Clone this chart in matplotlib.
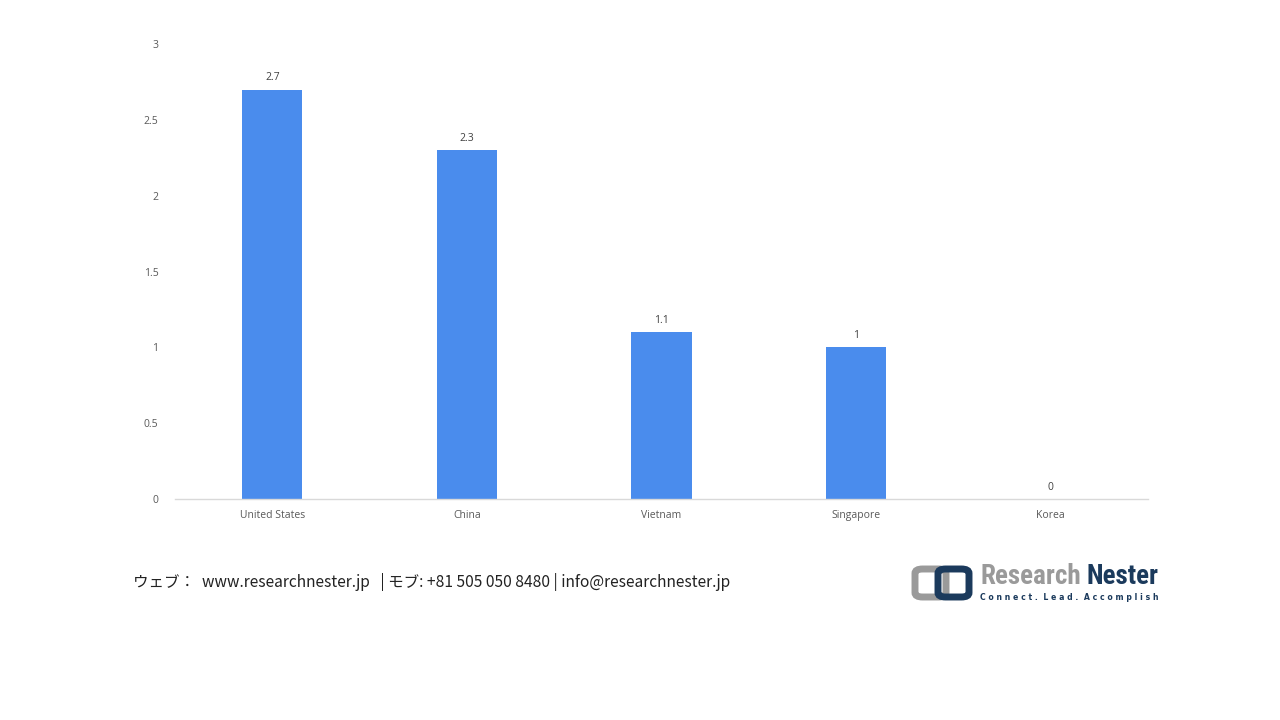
import matplotlib
matplotlib.use("Agg")
import matplotlib.pyplot as plt
from matplotlib.patches import FancyBboxPatch

categories = ["United States", "China", "Vietnam", "Singapore", "Korea"]
values = [2.7, 2.3, 1.1, 1.0, 0.0]
value_labels = ["2.7", "2.3", "1.1", "1", "0"]
yticks = [0, 0.5, 1, 1.5, 2, 2.5, 3]
ytick_labels = ["0", "0.5", "1", "1.5", "2", "2.5", "3"]

BAR_COLOR = "#4a8ced"
TEXT_GRAY = "#595959"
FONT = ["Open Sans", "DejaVu Sans"]

fig = plt.figure(figsize=(12.8, 7.2), dpi=100)
ax = fig.add_axes([175/1280, 1 - 499/720, (1148-175)/1280, (499-44)/720])

x = list(range(len(categories)))
bars = ax.bar(x, values, width=0.31, color=BAR_COLOR, zorder=2)
for xi, v, lab in zip(x, values, value_labels):
    ax.annotate(lab, (xi, v), xytext=(0, 4.5), textcoords="offset points",
                ha="center", va="bottom", fontsize=7.5, color="#404040", family=FONT)

ax.set_xlim(-0.5, len(categories) - 0.5)
ax.set_ylim(0, 3)
ax.set_yticks(yticks)
ax.set_yticklabels(ytick_labels, family=FONT, fontsize=7.5, color=TEXT_GRAY)
ax.set_xticks(x)
ax.set_xticklabels(categories, family=FONT, fontsize=7.5, color=TEXT_GRAY)
ax.tick_params(axis="both", length=0)
ax.tick_params(axis="y", pad=12)
ax.tick_params(axis="x", pad=8)
for s in ["top", "right", "left"]:
    ax.spines[s].set_visible(False)
ax.spines["bottom"].set_color("#d9d9d9")
ax.spines["bottom"].set_linewidth(1)

# footer text
fig.text(133/1280, 1 - 582/720,
         "ウェブ：  www.researchnester.jp   | モブ: +81 505 050 8480 | info@researchnester.jp",
         family=["Noto Sans CJK JP", "DejaVu Sans"], fontsize=11.2, color="#222222",
         ha="left", va="center")

# logo icon
def fx(px):
    return px / 1280
def fy(py):
    return 1 - py / 720

gray_box = FancyBboxPatch((fx(915), fy(597)), fx(946) - fx(915), fy(569) - fy(597),
                          boxstyle="round,pad=0,rounding_size=0.006",
                          transform=fig.transFigure, fill=False,
                          edgecolor="#9a9a9a", linewidth=5)
navy_box = FancyBboxPatch((fx(938), fy(597)), fx(969) - fx(938), fy(569) - fy(597),
                          boxstyle="round,pad=0,rounding_size=0.006",
                          transform=fig.transFigure, fill=False,
                          edgecolor="#1b3a5c", linewidth=5)
fig.patches.extend([gray_box, navy_box])

logo_font = ["Liberation Sans Narrow", "Roboto Condensed", "DejaVu Sans"]
fig.text(fx(981), fy(577), "Research", family=logo_font, fontweight="bold",
         fontsize=19.5, color="#9a9a9a", ha="left", va="center")
fig.text(fx(1158), fy(577), "Nester", family=logo_font, fontweight="bold",
         fontsize=19.5, color="#1b3a5c", ha="right", va="center")
fig.text(fx(1158), fy(597), "C o n n e c t .  L e a d .  A c c o m p l i s h",
         family=["DejaVu Sans"], fontweight="bold", fontsize=5.6, color="#1b3a5c",
         ha="right", va="center")

fig.savefig("out.png", dpi=100, facecolor="white")
